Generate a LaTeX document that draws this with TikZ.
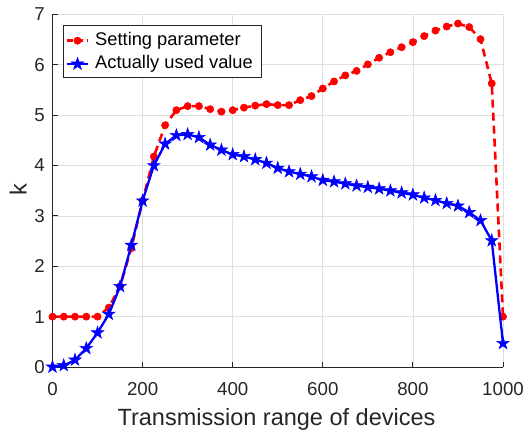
\documentclass[tikz,border=0pt]{standalone}
\usepackage{fontspec}
\setmainfont{Liberation Sans}

% filled five-pointed star used as a plot mark
\pgfdeclareplotmark{pentstar}{%
  \pgfpathmoveto{\pgfpointpolar{90}{\pgfplotmarksize}}%
  \pgfpathlineto{\pgfpointpolar{126}{0.382\pgfplotmarksize}}%
  \pgfpathlineto{\pgfpointpolar{162}{\pgfplotmarksize}}%
  \pgfpathlineto{\pgfpointpolar{198}{0.382\pgfplotmarksize}}%
  \pgfpathlineto{\pgfpointpolar{234}{\pgfplotmarksize}}%
  \pgfpathlineto{\pgfpointpolar{270}{0.382\pgfplotmarksize}}%
  \pgfpathlineto{\pgfpointpolar{306}{\pgfplotmarksize}}%
  \pgfpathlineto{\pgfpointpolar{342}{0.382\pgfplotmarksize}}%
  \pgfpathlineto{\pgfpointpolar{18}{\pgfplotmarksize}}%
  \pgfpathlineto{\pgfpointpolar{54}{0.382\pgfplotmarksize}}%
  \pgfpathclose
  \pgfusepathqfillstroke}

\definecolor{axiscol}{RGB}{38,38,38}
\definecolor{gridcol}{RGB}{223,223,223}

\tikzset{
  gridline/.style={draw=gridcol, line width=0.8pt},
  axisline/.style={draw=axiscol, line width=0.9pt},
  ticklabel/.style={text=axiscol, inner sep=0pt, font=\fontsize{18.7}{20}\selectfont},
  axislabel/.style={text=axiscol, inner sep=0pt, font=\fontsize{23.5}{26}\selectfont},
  settingline/.style={red, line width=2.6pt, dash pattern=on 8pt off 5pt,
    mark=*, mark size=3.6pt, mark options={solid, draw=red, fill=red, line width=0.6pt}},
  usedline/.style={blue, line width=2.3pt,
    mark=pentstar, mark size=6.6pt, mark options={solid, draw=blue, fill=blue, line width=0.5pt, line join=miter}},
  legendtext/.style={inner sep=0pt, anchor=west, font=\fontsize{18.3}{20}\selectfont}
}

\begin{document}
\begin{tikzpicture}[x=1pt, y=1pt]
\useasboundingbox (0,0) rectangle (526,434);

\begin{scope}[shift={(52.5pt,67pt)}, x=0.4505pt, y=50.36pt]
  % grid
  \foreach \gx in {200,400,600,800}
    \draw[gridline] (\gx,0) -- (\gx,7);
  \foreach \gy in {1,...,6}
    \draw[gridline] (0,\gy) -- (1000,\gy);
  \draw[gridline] (0,7) -- (1000,7) -- (1000,0);

  % axes and ticks
  \coordinate (origin) at (0,0);
  \coordinate (xend) at (1000,0);
  \coordinate (yend) at (0,7);
  \draw[axisline] (yend) -- (origin) -- (xend);
  \foreach \tx in {0,200,...,1000} {
    \draw[axisline] (\tx,0) -- ++(0,5pt);
    \node[ticklabel, anchor=base] (xt\tx) at ([yshift=-28pt]\tx,0) {\tx};
  }
  \foreach \ty in {0,...,7} {
    \draw[axisline] (0,\ty) -- ++(5pt,0);
    \node[ticklabel, anchor=east] (yt\ty) at ([xshift=-7.5pt]0,\ty) {\ty};
  }

  % setting parameter
  \draw[settingline] plot coordinates {
    (0,1) (25,1) (50,1) (75,1) (100,1) (125,1.18) (150,1.6) (175,2.36)
    (200,3.3) (225,4.18) (250,4.8) (275,5.1) (300,5.18) (325,5.18)
    (350,5.12) (375,5.07) (400,5.1) (425,5.15) (450,5.19) (475,5.22)
    (500,5.2) (525,5.2) (550,5.3) (575,5.38) (600,5.53) (625,5.67)
    (650,5.79) (675,5.88) (700,6.01) (725,6.14) (750,6.25) (775,6.35)
    (800,6.45) (825,6.57) (850,6.68) (875,6.76) (900,6.82) (925,6.75)
    (950,6.51) (975,5.63) (1000,1.0)};

  % actually used value
  \draw[usedline] plot coordinates {
    (0,0) (25,0.03) (50,0.14) (75,0.37) (100,0.68) (125,1.05) (150,1.6)
    (175,2.42) (200,3.3) (225,4.0) (250,4.43) (275,4.6) (300,4.62)
    (325,4.56) (350,4.41) (375,4.31) (400,4.22) (425,4.18) (450,4.12)
    (475,4.05) (500,3.95) (525,3.88) (550,3.83) (575,3.78) (600,3.71)
    (625,3.68) (650,3.64) (675,3.6) (700,3.57) (725,3.54) (750,3.5)
    (775,3.46) (800,3.42) (825,3.36) (850,3.31) (875,3.25) (900,3.2)
    (925,3.07) (950,2.91) (975,2.51) (1000,0.47)};
\end{scope}

% axis titles
\node[axislabel, anchor=base] (xlabel) at (276.5,9) {Transmission range of devices};
\node[axislabel, anchor=base, rotate=90] (ylabel) at (26.7,244) {k};

% legend box with line samples
\node[draw=axiscol, line width=0.8pt, fill=white, minimum width=198pt, minimum height=52.5pt,
      inner sep=0pt, anchor=north west] (legend) at (63,409) {};
\coordinate (s1a) at (66.7,393.3);
\coordinate (s1b) at (88.3,393.3);
\coordinate (s1m) at (77.5,393.3);
\coordinate (s2a) at (66.7,370);
\coordinate (s2b) at (88.3,370);
\coordinate (s2m) at (77.5,370);
\draw[red, line width=2.6pt, dash pattern=on 6pt off 4pt] (s1a) -- (s1b);
\path plot[settingline] coordinates {(s1m)};
\draw[blue, line width=2.3pt] (s2a) -- (s2b);
\path plot[usedline] coordinates {(s2m)};
\node[legendtext] (leg1) at (95,393.3) {Setting parameter};
\node[legendtext] (leg2) at (95,370) {Actually used value};
\end{tikzpicture}
\end{document}
